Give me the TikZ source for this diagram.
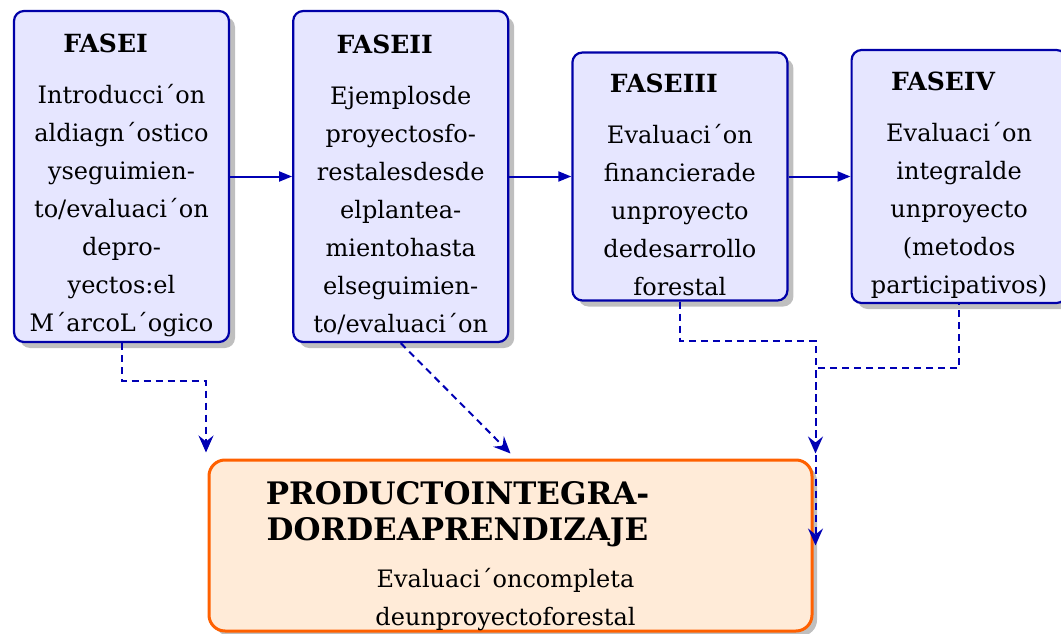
\documentclass[tikz,border=0pt]{standalone}
\usepackage{fontspec}
\setmainfont{DejaVu Serif}
\usetikzlibrary{positioning,shadows,arrows.meta}
\definecolor{faseborde}{HTML}{0000A8}
\definecolor{fasefondo}{HTML}{E6E6FF}
\definecolor{prodborde}{HTML}{FF6000}
\definecolor{prodfondo}{HTML}{FFEBD8}
\definecolor{flecha}{HTML}{0000B4}
\newcommand{\fasetitulo}[1]{\rule{0pt}{36pt}{\fontsize{25}{30}\selectfont\bfseries #1}\hspace*{32pt}\\[13pt]}
\tikzset{
    fase-box/.style = {draw=faseborde, fill=fasefondo, line width=2.2pt, rectangle, rounded corners=10pt, minimum width=215pt, inner sep=0pt, align=center, font=\fontsize{24}{38}\selectfont, drop shadow={shadow xshift=6pt, shadow yshift=-6pt}},
    prod-box/.style = {draw=prodborde, fill=prodfondo, line width=3pt, rectangle, rounded corners=16pt, minimum width=603pt, minimum height=171pt, drop shadow={shadow xshift=5pt, shadow yshift=-5pt}},
    prod-title/.style = {font=\fontsize{31}{36}\selectfont\bfseries, align=center, inner sep=0pt, anchor=north},
    prod-text/.style = {font=\fontsize{24}{38}\selectfont, align=center, inner sep=0pt, anchor=north},
    fase-arrow/.style = {draw=flecha, line width=2pt, -{Triangle[length=13pt, width=10pt]}},
    dash-arrow/.style = {draw=flecha, line width=2pt, dash pattern=on 7pt off 5pt, -{Stealth[length=17pt, width=15pt, inset=6pt]}},
}

\begin{document}
\begin{tikzpicture}[x=1pt, y=-1pt]
\useasboundingbox (0,0) rectangle (1061,634);

% fases
\node[fase-box, minimum height=331pt] (fase1) at (121.5,176.5) {\fasetitulo{FASEI}
    Introducci´on\\ aldiagn´ostico\\ yseguimien-\\ to/evaluaci´on\\ depro-\\ yectos:el\\ M´arcoL´ogico};
\node[fase-box, minimum height=331pt, right=62pt of fase1] (fase2) {\fasetitulo{FASEII}
    Ejemplosde\\ proyectosfo-\\ restalesdesde\\ elplantea-\\ mientohasta\\ elseguimien-\\ to/evaluaci´on};
\node[fase-box, minimum height=248pt, right=62pt of fase2] (fase3) {\fasetitulo{FASEIII}
    Evaluaci´on\\ financierade\\ unproyecto\\ dedesarrollo\\ forestal};
\node[fase-box, minimum height=253pt, right=62pt of fase3] (fase4) {\fasetitulo{FASEIV}
    Evaluaci´on\\ integralde\\ unproyecto\\ (metodos\\ participativos)};

% producto
\node[prod-box] (producto) at (510.5,545.5) {};
\node[prod-title] (prodtit) at ([xshift=-53pt, yshift=-23pt]producto.north) {PRODUCTOINTEGRA-\\ DORDEAPRENDIZAJE};
\node[prod-text] (prodtxt) at ([xshift=-5pt, yshift=-110pt]producto.north) {Evaluaci´oncompleta\\ deunproyectoforestal};

% flechas
\draw[fase-arrow] (fase1) -- (fase2);
\draw[fase-arrow] (fase2) -- (fase3);
\draw[fase-arrow] (fase3) -- (fase4);

\draw[dash-arrow] (fase1.south) -- ++(0,38) -| ([xshift=-304.5pt, yshift=6pt]producto.north);
\draw[dash-arrow] (fase2.south) -- ([yshift=5pt]producto.north);
\draw[dash-arrow] (fase3.south) -- ++(0,39) -| ([xshift=2pt, yshift=5pt]producto.north east);
\draw[dash-arrow, dash phase=6pt] (fase4.south) -- ++(0,64) -| ([xshift=2pt]producto.east);
\end{tikzpicture}
\end{document}
